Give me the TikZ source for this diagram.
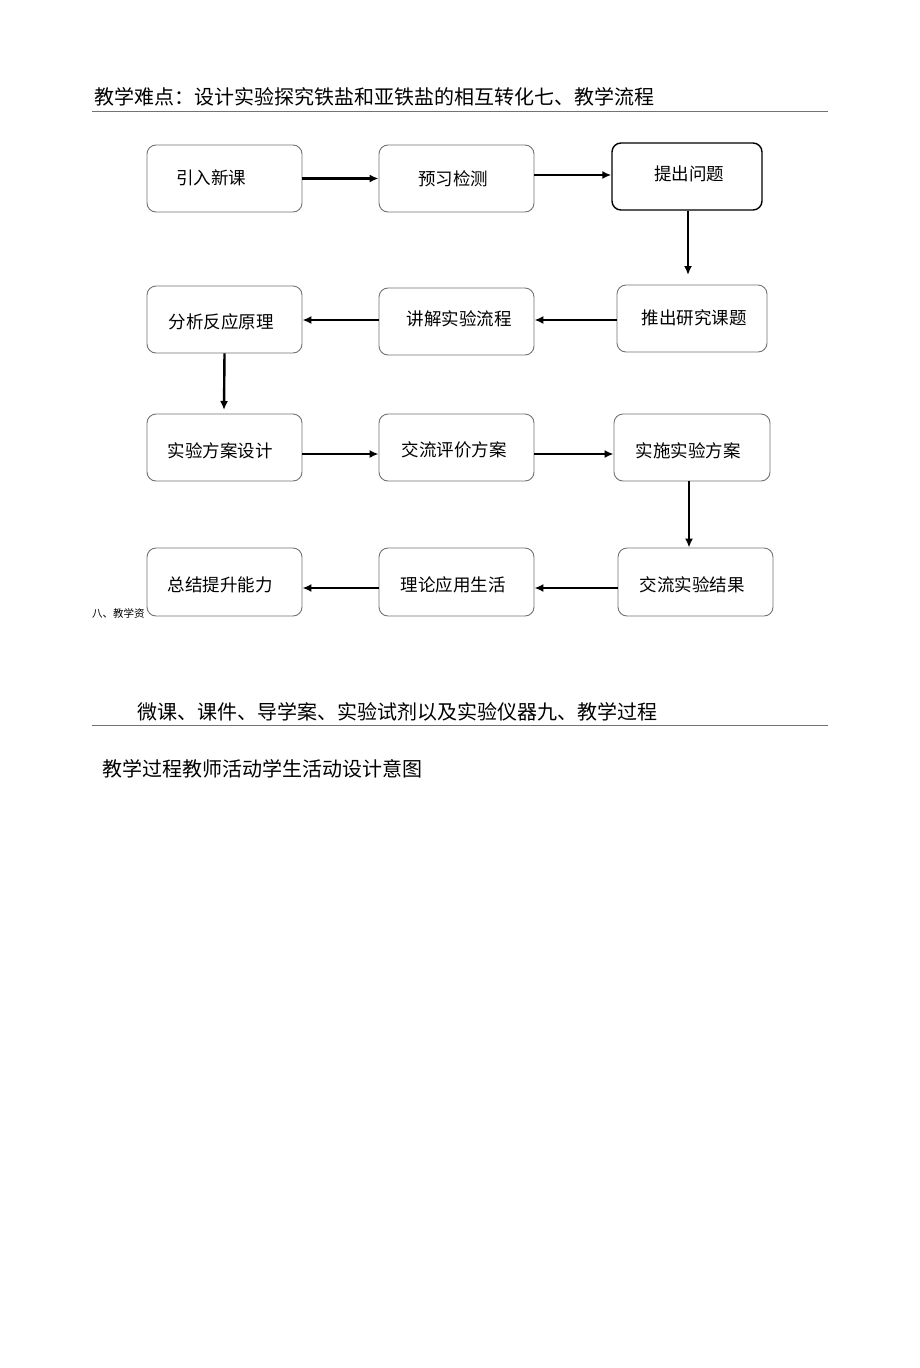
\documentclass[tikz,border=0pt]{standalone}
\usepackage{fontspec}
\setmainfont{Noto Sans CJK SC}
\usetikzlibrary{arrows.meta}
\begin{document}
\begin{tikzpicture}[x=1pt,y=-1pt,
  box/.style={draw=black!55, line width=0.9pt, rounded corners=9pt},
  keybox/.style={draw=black, line width=1.4pt, rounded corners=9pt},
  lab/.style={inner sep=0pt, font=\fontsize{17.5}{20}\selectfont},
  arr/.style={line width=2.4pt, -{Latex[length=9pt,width=8pt]}},
  rule/.style={draw=black!55, line width=0.9pt},
  txt/.style={anchor=west, inner sep=0pt, font=\fontsize{20}{24}\selectfont}]
\useasboundingbox (0,0) rectangle (920,1368);
\fill[white] (0,0) rectangle (920,1368);
% header
\node[txt] (h1) at (94,97) {教学难点：设计实验探究铁盐和亚铁盐的相互转化七、教学流程};
\draw[rule] (92,111) -- (828,111);
% boxes
\node[box] (a1) at (224.5,178.5) [minimum width=155pt, minimum height=67pt] {};
\node[box] (a2) at (456.5,178.5) [minimum width=155pt, minimum height=67pt] {};
\node[keybox] (a3) at (687,176.5) [minimum width=150pt, minimum height=67pt] {};
\node[box] (b1) at (224.5,319.5) [minimum width=155pt, minimum height=67pt] {};
\node[box] (b2) at (456.5,321.5) [minimum width=155pt, minimum height=67pt] {};
\node[box] (b3) at (692,318.5) [minimum width=150pt, minimum height=67pt] {};
\node[box] (c1) at (224.5,447.5) [minimum width=155pt, minimum height=67pt] {};
\node[box] (c2) at (456.5,447.5) [minimum width=155pt, minimum height=67pt] {};
\node[box] (c3) at (692,447.5) [minimum width=156pt, minimum height=67pt] {};
\node[box] (d1) at (224.5,582) [minimum width=155pt, minimum height=68pt] {};
\node[box] (d2) at (456.5,582) [minimum width=155pt, minimum height=68pt] {};
\node[box] (d3) at (695.5,582) [minimum width=155pt, minimum height=68pt] {};
% box labels
\node[lab] (ta1) at (211,178) {引入新课};
\node[lab] (ta2) at (453,179) {预习检测};
\node[lab] (ta3) at (689,174) {提出问题};
\node[lab] (tb1) at (221,322) {分析反应原理};
\node[lab] (tb2) at (459,319) {讲解实验流程};
\node[lab] (tb3) at (694,318) {推出研究课题};
\node[lab] (tc1) at (220,451) {实验方案设计};
\node[lab] (tc2) at (454,450) {交流评价方案};
\node[lab] (tc3) at (688,451) {实施实验方案};
\node[lab] (td1) at (220,585) {总结提升能力};
\node[lab] (td2) at (453,585) {理论应用生活};
\node[lab] (td3) at (692,585) {交流实验结果};
% arrows
\draw[arr] (a1.east) -- (a2.west);
\draw[arr] (a2.east |- 0,175) -- (a3.west |- 0,175);
\draw[arr] (a3.south -| 688,0) -- (688,275);
\draw[arr] (b3.west |- 0,320) -- (b2.east |- 0,320);
\draw[arr] (b2.west |- 0,320) -- (b1.east |- 0,320);
\draw[arr] (b1.south) -- (224,410);
\draw[arr] (c1.east |- 0,454) -- (c2.west |- 0,454);
\draw[arr] (c2.east |- 0,454) -- (c3.west |- 0,454);
\draw[arr] (c3.south -| 689,0) -- (d3.north -| 689,0);
\draw[arr] (d3.west |- 0,588) -- (d2.east |- 0,588);
\draw[arr] (d2.west |- 0,588) -- (d1.east |- 0,588);
% small text
\node[anchor=west, inner sep=0pt, font=\fontsize{10.5}{12}\selectfont] (s1) at (92,613) {八、教学资};
% lower texts
\node[txt] (h2) at (137,712) {微课、课件、导学案、实验试剂以及实验仪器九、教学过程};
\draw[rule] (92,725) -- (828,725);
\node[txt] (h3) at (102,769) {教学过程教师活动学生活动设计意图};
\end{tikzpicture}
\end{document}
